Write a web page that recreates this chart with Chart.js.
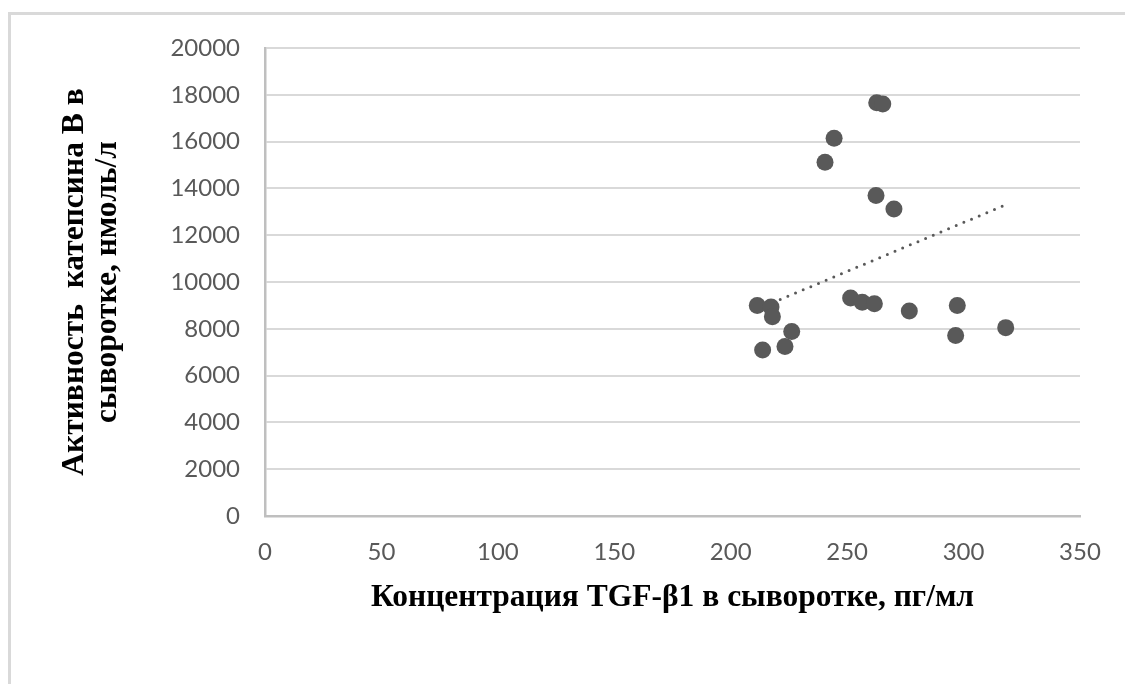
<!DOCTYPE html>
<html>
<head>
<meta charset="utf-8">
<script src="https://cdn.jsdelivr.net/npm/chart.js@4"></script>
<style>
  html, body { margin: 0; padding: 0; background: #ffffff; overflow: hidden; }
  #wrap { position: relative; width: 1125px; height: 684px; }
  #frame {
    position: absolute; left: 8px; top: 12px; width: 1400px; height: 900px;
    border: 3px solid #d9d9d9; box-sizing: border-box;
  }
  canvas { position: absolute; left: 0; top: 0; }
</style>
</head>
<body>
<div id="wrap">
  <div id="frame"></div>
  <canvas id="chart" width="1125" height="684"></canvas>
</div>
<script>
// TGF-β1 concentration (pg/ml) and cathepsin B activity (nmol/l) per patient
const tgfValues = [262.7, 265.3, 244.4, 240.5, 262.4, 270.1, 211.4, 217.3, 217.9, 226.2,
                   213.7, 223.3, 251.5, 256.5, 261.7, 276.7, 297.3, 296.6, 318.1];
const cathepsinValues = [17660, 17610, 16140, 15120, 13700, 13120, 9000, 8930, 8520, 7880,
                         7090, 7240, 9320, 9130, 9070, 8760, 9000, 7710, 8050];

// linear trend line end points
const trendX = [211.4, 318.1];
const trendY = [8840, 13300];

// axis ticks
const xTicks = [0, 50, 100, 150, 200, 250, 300, 350];
const yTicks = [0, 2000, 4000, 6000, 8000, 10000, 12000, 14000, 16000, 18000, 20000];

const xTitle = 'Концентрация TGF-β1 в сыворотке, пг/мл';
const yTitle = ['Активность  катепсина В в', 'сыворотке, нмоль/л'];

const points = tgfValues.map((x, i) => ({ x, y: cathepsinValues[i] }));
const trend = trendX.map((x, i) => ({ x, y: trendY[i] }));

const tickFont = { family: 'Lato', size: 24 };
const titleFont = { family: 'Liberation Serif', size: 31.5, weight: 'bold', lineHeight: 1.05 };
const plainNumber = v => String(v);

new Chart(document.getElementById('chart'), {
  type: 'scatter',
  data: {
    datasets: [
      {
        label: 'trend',
        type: 'line',
        data: trend,
        borderColor: '#595959',
        borderWidth: 3,
        borderDash: [0, 8.3],
        borderCapStyle: 'round',
        pointRadius: 0,
        fill: false,
        order: 2
      },
      {
        label: 'data',
        data: points,
        backgroundColor: '#595959',
        borderWidth: 0,
        pointRadius: 8.5,
        pointHoverRadius: 8.5,
        order: 1
      }
    ]
  },
  options: {
    responsive: false,
    animation: false,
    events: [],
    layout: { padding: { top: 48, right: 45, left: 0, bottom: 0 } },
    plugins: { legend: { display: false }, tooltip: { enabled: false } },
    scales: {
      x: {
        type: 'linear',
        min: 0, max: 350,
        afterBuildTicks: s => { s.ticks = xTicks.map(v => ({ value: v })); },
        afterFit: s => { s.height = 168; },
        grid: { display: false, drawTicks: false },
        border: { display: true, color: '#bfbfbf', width: 2.5 },
        ticks: { font: tickFont, color: '#595959', padding: 22, maxRotation: 0, callback: plainNumber },
        title: {
          display: true, text: xTitle, color: '#000000', font: titleFont,
          padding: { top: 0, bottom: 70 }
        }
      },
      y: {
        type: 'linear',
        min: 0, max: 20000,
        afterBuildTicks: s => { s.ticks = yTicks.map(v => ({ value: v })); },
        afterFit: s => { s.width = 265; },
        grid: { color: '#d9d9d9', lineWidth: 2, drawTicks: false },
        border: { display: true, color: '#bfbfbf', width: 2.5 },
        ticks: { font: tickFont, color: '#595959', padding: 25, callback: plainNumber },
        title: {
          display: true, text: yTitle, color: '#000000', font: titleFont,
          padding: { top: 58.5, bottom: 0 }
        }
      }
    }
  }
});
</script>
</body>
</html>
